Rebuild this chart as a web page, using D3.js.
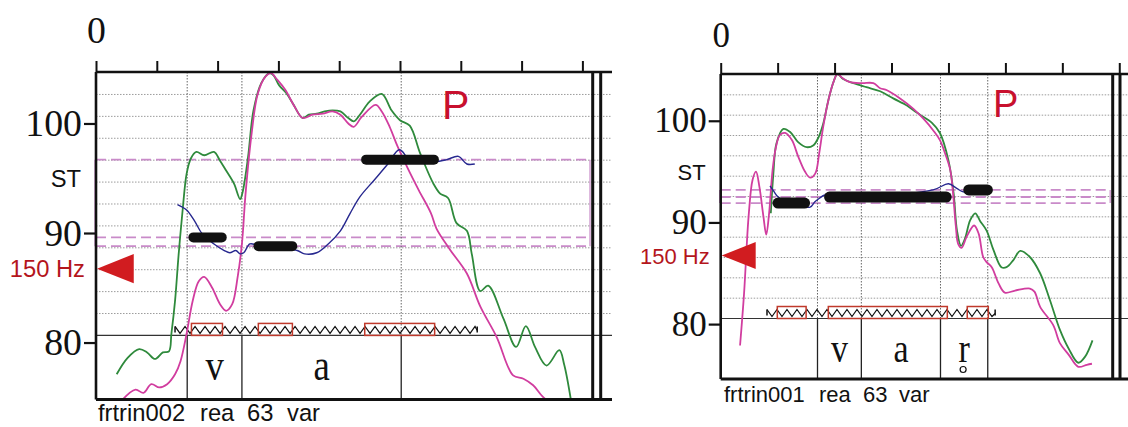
<!DOCTYPE html>
<html>
<head>
<meta charset="utf-8">
<script src="https://cdn.jsdelivr.net/npm/d3@7"></script>
<style>
  body { margin: 0; background: #fff; }
  svg { display: block; }
</style>
</head>
<body>
<svg id="chart" width="1128" height="427"></svg>
<script>
// values: time in s, pitch in semitones (ST re 1 Hz)

// --- left panel: frtrin002 ---
var greenL = [[.034,77.1],[.052,78.6],[.071,79.4],[.084,79.1],[.097,78.5],[.110,79.1],[.120,79.2],[.124,80.8],[.130,83.8],[.136,88.1],[.143,92.4],[.149,95.4],[.156,96.8],[.165,97.4],[.178,97.1],[.194,97.4],[.204,96.6],[.214,95.7],[.227,94.5],[.237,93.1],[.241,93.7],[.250,96.9],[.259,101.2],[.272,103.7],[.285,104.6],[.292,104.4],[.301,103.5],[.314,102.7],[.324,101.8],[.340,100.5],[.350,100.8],[.363,100.9],[.376,101.1],[.389,101.2],[.402,101.1],[.415,100.5],[.424,100.2],[.434,100.8],[.450,102.0],[.470,102.7],[.486,101.2],[.500,100.3],[.516,99.8],[.533,97.3],[.555,94.5],[.566,93.6],[.579,93.2],[.593,90.9],[.610,90.2],[.618,88.1],[.632,84.7],[.645,85.2],[.670,82.2],[.691,79.6],[.707,81.5],[.722,79.6],[.741,77.9],[.762,79.3],[.770,78.0],[.781,74.8]];
var magentaL = [[.042,74.7],[.065,75.7],[.078,75.4],[.091,76.2],[.104,75.9],[.117,76.2],[.130,77.1],[.139,78.3],[.149,80.8],[.159,83.8],[.169,85.6],[.178,86.0],[.191,85.0],[.204,83.5],[.214,82.9],[.224,83.5],[.233,86.0],[.240,89.0],[.246,93.6],[.256,99.1],[.266,102.7],[.279,104.3],[.288,104.6],[.298,104.0],[.311,103.1],[.327,101.5],[.340,100.5],[.356,100.8],[.373,100.9],[.389,101.1],[.402,100.8],[.415,100.0],[.424,99.7],[.437,100.6],[.460,101.7],[.470,101.1],[.483,99.7],[.496,97.9],[.512,96.0],[.531,93.9],[.551,91.8],[.560,90.4],[.582,88.5],[.610,86.3],[.632,83.3],[.659,80.5],[.686,77.0],[.703,76.7],[.719,76.1],[.741,74.8],[.778,74.8]];
var blueL = [[.134,92.6],[.149,92.1],[.162,91.1],[.175,89.9],[.194,89.0],[.211,88.4],[.220,88.2],[.230,88.4],[.237,88.1],[.243,88.2],[.253,89.0],[.266,88.9],[.331,88.4],[.343,88.1],[.363,88.2],[.382,89.0],[.402,90.2],[.418,91.8],[.434,93.3],[.457,94.8],[.480,96.3],[.499,97.6],[.518,96.6],[.557,96.5],[.577,96.7],[.596,97.0],[.610,96.3],[.623,96.3]];
var barsL = [[.152,.215,89.6],[.259,.331,88.8],[.436,.564,96.7]];
var levelsL = [96.7, 89.6, 88.8];
var boxesL = [[.157,.208],[.267,.323],[.442,.557]];
var zigL = [.130, .627];
var boundsL = [.15, .24, .502];
var phonesL = ["v", "a"];
var wordsL = ["frtrin002", "rea", "63", "var"];

// --- right panel: frtrin001 ---
var greenR = [[.088,90.9],[.0925,94.8],[.098,97.8],[.110,99.2],[.122,98.9],[.136,97.9],[.151,97.4],[.163,97.6],[.172,98.4],[.180,99.7],[.189,102.0],[.198,103.8],[.205,104.6],[.215,104.1],[.233,103.7],[.256,103.3],[.280,102.9],[.303,102.2],[.327,101.5],[.338,101.05],[.350,100.6],[.371,99.8],[.385,98.8],[.400,96.1],[.409,92.9],[.415,89.2],[.422,87.7],[.429,88.4],[.438,90.2],[.447,90.9],[.456,90.1],[.467,89.2],[.479,87.3],[.493,85.6],[.502,85.6],[.514,86.3],[.526,87.2],[.543,86.6],[.561,85.0],[.578,82.4],[.596,79.4],[.611,77.6],[.628,76.2],[.640,76.8],[.653,78.4]];
var magentaR = [[.034,77.9],[.041,83.0],[.049,90.6],[.056,94.2],[.062,95.0],[.068,93.5],[.075,90.6],[.080,88.8],[.085,90.9],[.091,95.1],[.097,97.4],[.104,98.6],[.113,98.8],[.125,98.1],[.136,96.5],[.148,95.0],[.157,94.4],[.166,94.8],[.173,96.8],[.180,99.4],[.189,102.0],[.198,103.8],[.205,104.6],[.214,104.2],[.227,103.8],[.248,103.7],[.268,103.7],[.280,103.2],[.292,103.0],[.315,102.2],[.338,101.2],[.356,100.2],[.374,99.0],[.385,98.1],[.394,96.8],[.403,95.2],[.408,92.9],[.413,89.6],[.417,87.9],[.423,87.5],[.432,88.6],[.445,89.7],[.453,88.9],[.461,86.6],[.467,86.1],[.476,85.6],[.488,84.0],[.499,83.1],[.517,83.3],[.543,83.5],[.551,83.2],[.561,81.7],[.584,79.9],[.596,78.1],[.611,77.0],[.628,75.8],[.643,76.0],[.652,76.1]];
var blueR = [[.0866,93.6],[.094,93.0],[.101,92.5],[.120,92.0],[.157,91.5],[.165,92.0],[.174,92.4],[.183,92.7],[.250,92.6],[.373,93.2],[.400,93.8],[.4145,93.35],[.426,93.0],[.440,93.1]];
var barsR = [[.091,.157,91.9],[.1815,.4057,92.5],[.426,.478,93.2]];
var levelsR = [93.2, 92.5, 91.9];
var boxesR = [[.0994,.150],[.189,.398],[.433,.470]];
var zigR = [.0813, .482];
var boundsR = [.17, .247, .386, .469];
var phonesR = ["v", "a", "r"];
var ringR = [false, false, true];   // voiceless diacritic under the last segment
var wordsR = ["frtrin001", "rea", "63", "var"];

var refHz = 150;
var yTicks = [80, 90, 100];

var svg = d3.select("#chart");
var serif = "'Liberation Serif', 'Times New Roman', serif";
var sans = "'Liberation Sans', Arial, sans-serif";

var panels = [
  { id: "L", left: 96, top: 72, bottom: 399.5, pxPerSec: 608, tMax: 0.8, yDomain: [74.8, 104.7],
    gridBase: 80.65, lineEnd: 612, dbl: [592.7, 600.7], dashEnd: 0.8125, f: 1.08,
    green: greenL, magenta: magentaL, blue: blueL, bars: barsL, levels: levelsL, boxes: boxesL,
    zig: zigL, bounds: boundsL, phones: phonesL, rings: [], words: wordsL, wordX: [98, 200, 247, 287], wordY: 421,
    phonDy: 45, barH: 10, pX: 442, pY: 119, stY: 187, zeroPad: 18 },
  { id: "R", left: 720.7, top: 74, bottom: 379, pxPerSec: 569.4, tMax: 0.7, yDomain: [74.6, 104.6],
    gridBase: 80.55, lineEnd: 1128, dbl: [1112.7, 1120], dashEnd: 0.684, f: 1,
    green: greenR, magenta: magentaR, blue: blueR, bars: barsR, levels: levelsR, boxes: boxesR,
    zig: zigR, bounds: boundsR, phones: phonesR, rings: ringR, words: wordsR, wordX: [724, 819, 863, 899], wordY: 402,
    phonDy: 43, barH: 11, pX: 993, pY: 117, stY: 180, zeroPad: 16 }
];

function drawPanel(p) {
  var g = svg.append("g");
  var x = d3.scaleLinear().domain([0, p.tMax]).range([p.left, p.left + p.pxPerSec * p.tMax]);
  var y = d3.scaleLinear().domain(p.yDomain).range([p.bottom, p.top]);
  var base = y(p.gridBase);

  g.append("clipPath").attr("id", "clip" + p.id)
    .append("rect")
    .attr("x", p.left).attr("y", p.top)
    .attr("width", p.dbl[0] - p.left).attr("height", p.bottom - p.top);

  // dotted grid
  var grid = d3.range(p.gridBase + 2, p.yDomain[1] - 1, 2);
  g.selectAll(".grid").data(grid).enter().append("line")
    .attr("x1", p.left).attr("x2", p.lineEnd)
    .attr("y1", d => y(d)).attr("y2", d => y(d))
    .attr("stroke", "#9c9c9c").attr("stroke-width", 1)
    .attr("stroke-dasharray", "1.5,1.5");

  // pink dashed register lines
  g.selectAll(".lvl").data(p.levels).enter().append("line")
    .attr("x1", p.left).attr("x2", x(p.dashEnd))
    .attr("y1", d => y(d)).attr("y2", d => y(d))
    .attr("stroke", "#c98bc9").attr("stroke-width", 1.8)
    .attr("stroke-dasharray", "10,5");
  [p.left - 1, x(p.dashEnd)].forEach(function(xx) {
    g.append("line")
      .attr("x1", xx).attr("x2", xx)
      .attr("y1", y(d3.max(p.levels))).attr("y2", y(d3.min(p.levels)))
      .attr("stroke", "#c98bc9").attr("stroke-width", 1.2);
  });

  // segment boundaries
  g.selectAll(".vdot").data(p.bounds).enter().append("line")
    .attr("x1", d => x(d)).attr("x2", d => x(d))
    .attr("y1", p.top).attr("y2", base)
    .attr("stroke", "#666").attr("stroke-width", 1)
    .attr("stroke-dasharray", "1.5,1.5");
  g.selectAll(".vsol").data(p.bounds).enter().append("line")
    .attr("x1", d => x(d)).attr("x2", d => x(d))
    .attr("y1", base).attr("y2", p.bottom)
    .attr("stroke", "#222").attr("stroke-width", 1.3);

  // baseline of segment tier
  g.append("line")
    .attr("x1", p.left).attr("x2", p.lineEnd)
    .attr("y1", base).attr("y2", base)
    .attr("stroke", "#333").attr("stroke-width", 1.2);

  // phoneme labels
  var mids = p.phones.map((s, i) => [s, (p.bounds[i] + p.bounds[i + 1]) / 2, p.rings[i]]);
  g.selectAll(".ph").data(mids).enter().append("text")
    .attr("transform", d => `translate(${x(d[1])},${base + p.phonDy}) scale(1,1.2)`)
    .attr("text-anchor", "middle")
    .style("font-family", serif)
    .style("font-size", (34 * p.f) + "px")
    .attr("fill", "#111")
    .text(d => d[0]);
  g.selectAll(".ring").data(mids.filter(d => d[2])).enter().append("circle")
    .attr("cx", d => x(d[1]) - 1).attr("cy", base + p.phonDy + 8)
    .attr("r", 3).attr("fill", "none").attr("stroke", "#111").attr("stroke-width", 1.2);

  // zigzag + red boxes
  var zx0 = x(p.zig[0]), zx1 = x(p.zig[1]);
  var zpts = [];
  for (var xx = zx0, k = 0; xx < zx1; xx += 5, k++) zpts.push([xx, k % 2 ? base - 2 : base - 9]);
  zpts.push([zx1, base - 5]);
  g.append("path")
    .attr("d", d3.line()(zpts))
    .attr("fill", "none").attr("stroke", "#111").attr("stroke-width", 1.2);
  [zx0, zx1].forEach(function(xx) {
    g.append("line").attr("x1", xx).attr("x2", xx)
      .attr("y1", base - 9).attr("y2", base - 3)
      .attr("stroke", "#111").attr("stroke-width", 1.5);
  });
  g.selectAll(".box").data(p.boxes).enter().append("rect")
    .attr("x", d => x(d[0])).attr("width", d => x(d[1]) - x(d[0]))
    .attr("y", base - 12).attr("height", 12)
    .attr("fill", "none").attr("stroke", "#c0392b").attr("stroke-width", 1.5);

  // pitch curves
  var line = d3.line().x(d => x(d[0])).y(d => y(d[1])).curve(d3.curveCatmullRom.alpha(0.5));
  var curves = g.append("g").attr("clip-path", "url(#clip" + p.id + ")");
  curves.append("path").datum(p.green).attr("d", line)
    .attr("fill", "none").attr("stroke", "#2f8a3c").attr("stroke-width", 1.8);
  curves.append("path").datum(p.magenta).attr("d", line)
    .attr("fill", "none").attr("stroke", "#d13d9f").attr("stroke-width", 1.8);
  curves.append("path").datum(p.blue).attr("d", line)
    .attr("fill", "none").attr("stroke", "#27288f").attr("stroke-width", 1.4);

  // stylised tone bars
  g.selectAll(".bar").data(p.bars).enter().append("rect")
    .attr("x", d => x(d[0])).attr("width", d => x(d[1]) - x(d[0]))
    .attr("y", d => y(d[2]) - p.barH / 2).attr("height", p.barH)
    .attr("rx", p.barH / 2)
    .attr("fill", "#111");

  // frame
  g.append("line").attr("x1", p.left).attr("x2", p.left).attr("y1", p.top).attr("y2", p.bottom)
    .attr("stroke", "#111").attr("stroke-width", 2.6);
  g.append("line").attr("x1", p.left).attr("x2", p.lineEnd).attr("y1", p.top).attr("y2", p.top)
    .attr("stroke", "#111").attr("stroke-width", 2.6);
  g.append("line").attr("x1", p.left).attr("x2", p.lineEnd).attr("y1", p.bottom).attr("y2", p.bottom)
    .attr("stroke", "#111").attr("stroke-width", 3);
  p.dbl.forEach(function(xx) {
    g.append("line").attr("x1", xx).attr("x2", xx).attr("y1", p.top).attr("y2", p.bottom)
      .attr("stroke", "#111").attr("stroke-width", 3);
  });

  // time ticks on top
  var topAxis = g.append("g")
    .attr("transform", `translate(0,${p.top})`)
    .call(d3.axisTop(x).tickValues(d3.range(0, p.tMax + 0.001, 0.1))
      .tickSize(11).tickPadding(p.zeroPad)
      .tickFormat(d => d === 0 ? "0" : ""));
  topAxis.select(".domain").remove();
  topAxis.selectAll("line").attr("stroke", "#111").attr("stroke-width", 2);
  topAxis.selectAll("text").style("font-family", serif).style("font-size", (35 * p.f) + "px").attr("fill", "#111");

  // semitone ticks on the left
  var leftAxis = g.append("g")
    .attr("transform", `translate(${p.left},0)`)
    .call(d3.axisLeft(y).tickValues(yTicks).tickSize(12).tickPadding(2));
  leftAxis.select(".domain").remove();
  leftAxis.selectAll("line").attr("stroke", "#111").attr("stroke-width", 2.2);
  leftAxis.selectAll("text").style("font-family", serif).style("font-size", (35 * p.f) + "px").attr("fill", "#111");

  // ST unit label
  g.append("text").attr("x", p.left - 15).attr("y", p.stY)
    .attr("text-anchor", "end")
    .style("font-family", sans).style("font-size", (22 * p.f) + "px")
    .attr("fill", "#111").text("ST");

  // 150 Hz reference marker
  var yHz = y(12 * Math.log2(refHz));
  var tw = 34 * p.f, th = 13.5 * p.f;
  g.append("path")
    .attr("d", `M${p.left + 1},${yHz} L${p.left + 1 + tw},${yHz - th} L${p.left + 1 + tw},${yHz + th} Z`)
    .attr("fill", "#d11c20");
  g.append("text").attr("x", p.left - 11).attr("y", yHz + 8 * p.f)
    .attr("text-anchor", "end")
    .style("font-family", sans).style("font-size", (22 * p.f) + "px")
    .attr("fill", "#b4151c").text(refHz + " Hz");

  // P marker
  g.append("text").attr("x", p.pX).attr("y", p.pY)
    .style("font-family", sans).style("font-size", (38 * p.f) + "px")
    .attr("fill", "#c8102e").text("P");

  // file label
  g.selectAll(".word").data(p.words).enter().append("text")
    .attr("x", (d, i) => p.wordX[i]).attr("y", p.wordY)
    .style("font-family", sans).style("font-size", (22 * p.f) + "px")
    .attr("fill", "#111").text(d => d);
}

panels.forEach(drawPanel);
</script>
</body>
</html>
